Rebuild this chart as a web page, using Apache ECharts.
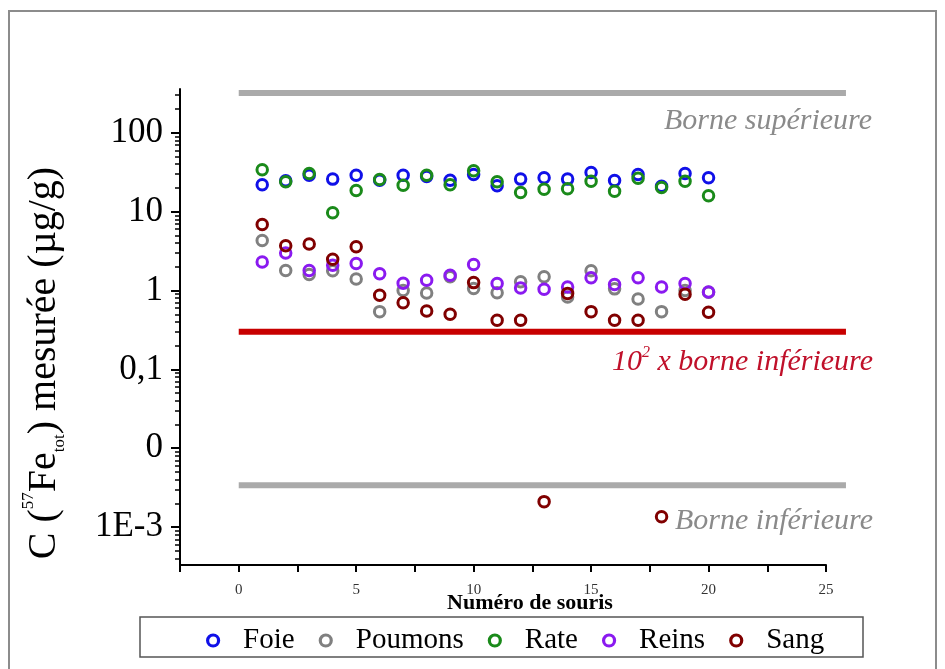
<!DOCTYPE html>
<html>
<head>
<meta charset="utf-8">
<script src="https://cdn.jsdelivr.net/npm/echarts@6/dist/echarts.min.js"></script>
<style>
  html, body { margin: 0; padding: 0; background: #fff; }
  #chart { width: 945px; height: 669px; }
</style>
</head>
<body>
<div id="chart"></div>
<script>
// numéros de souris
const souris = [1, 2, 3, 4, 5, 6, 7, 8, 9, 10, 11, 12, 13, 14, 15, 16, 17, 18, 19, 20]
// concentrations (µg/g)
const foie = [22, 24.6, 29, 25.9, 29, 25, 29, 28, 25, 29.6, 21.3, 25.9, 27, 25.9, 31.5, 24.9, 29.6, 21, 30.5, 27]
const poumons = [4.3, 1.8, 1.6, 1.78, 1.4, 0.54, 1.0, 0.93, 1.5, 1.06, 0.94, 1.29, 1.5, 0.83, 1.78, 1.05, 0.78, 0.54, 1.0, 0.95]
const rate = [34, 24, 30.5, 9.7, 18.6, 25.6, 21.7, 29, 22, 33, 24, 17.5, 19.3, 19.6, 24.4, 18.2, 26.5, 20.3, 24.4, 15.9]
const reins = [2.3, 3.0, 1.8, 2.1, 2.2, 1.63, 1.24, 1.35, 1.56, 2.14, 1.23, 1.08, 1.04, 1.11, 1.45, 1.19, 1.45, 1.11, 1.23, 0.96]
const sang = [6.9, 3.7, 3.9, 2.5, 3.6, 0.87, 0.70, 0.55, 0.50, 1.26, 0.42, 0.42, 0.0021, 0.92, 0.54, 0.42, 0.42, 0.00135, 0.90, 0.53]

// bornes
const borneSup = 320
const borneInf = 0.0034
const borneInf100 = 0.3
const borneX = [0, 25.85]

// graduations
const yTicks = [0.001, 0.01, 0.1, 1, 10, 100]
const yTickLabels = ['1E-3', '0', '0,1', '1', '10', '100']
const xLabels = [0, 5, 10, 15, 20, 25]

const serif = 'Liberation Serif'

let chart = echarts.init(document.getElementById('chart'))

function nuage(name, values, color) {
  return {
    name: name,
    type: 'scatter',
    symbol: 'circle',
    symbolSize: 10.5,
    itemStyle: { color: 'rgba(255,255,255,0)', borderColor: color, borderWidth: 3, opacity: 1 },
    data: souris.map(function (n, i) { return [n, values[i]] })
  }
}

// trait horizontal d'une borne, dessiné via les échelles des axes
function borne(name, value, color) {
  return {
    name: name,
    type: 'custom',
    silent: true,
    clip: false,
    data: [[borneX[0], borneX[1], value]],
    renderItem: function (params, api) {
      let p0 = api.coord([api.value(0), api.value(2)])
      let p1 = api.coord([api.value(1), api.value(2)])
      return {
        type: 'line',
        shape: { x1: p0[0], y1: p0[1], x2: p1[0], y2: p1[1] },
        style: { stroke: color, lineWidth: 6 }
      }
    }
  }
}

chart.setOption({
  animation: false,
  grid: { left: 180, right: 119, top: 89, bottom: 104 },
  legend: {
    data: ['Foie', 'Poumons', 'Rate', 'Reins', 'Sang'],
    left: 201,
    top: 621,
    itemWidth: 50,
    itemHeight: 11,
    itemGap: 24,
    itemStyle: { borderWidth: 3.2 },
    textStyle: { fontFamily: serif, fontSize: 29, color: '#000' }
  },
  xAxis: {
    type: 'value',
    min: -2.5,
    max: 25,
    interval: 2.5,
    name: 'Numéro de souris',
    nameLocation: 'middle',
    nameGap: 27,
    nameMoveOverlap: false,
    nameTextStyle: { fontFamily: serif, fontSize: 22, fontWeight: 'bold', color: '#000', padding: [0, 0, 0, 54] },
    axisLine: { onZero: false, lineStyle: { color: '#000', width: 2 } },
    axisTick: { length: 7, lineStyle: { color: '#000', width: 2 } },
    splitLine: { show: false },
    axisLabel: {
      fontFamily: serif, fontSize: 15, color: '#333', margin: 18,
      formatter: function (v) { return xLabels.indexOf(v) >= 0 ? String(v) : '' }
    }
  },
  yAxis: {
    type: 'log',
    logBase: 10,
    min: 3.3e-4,
    max: 360,
    name: '{t|C (}{sup|57}{t|Fe}{sub|tot}{t|) mesurée (µg/g)}',
    nameLocation: 'middle',
    nameGap: 112,
    nameMoveOverlap: false,
    nameTextStyle: {
      padding: [0, 72, 0, 0],
      rich: {
        t: { fontFamily: serif, fontSize: 40, color: '#000', lineHeight: 48 },
        sup: { fontFamily: serif, fontSize: 17, color: '#000', verticalAlign: 'top', lineHeight: 48, padding: [0, 0, 22, 0] },
        sub: { fontFamily: serif, fontSize: 17, color: '#000', verticalAlign: 'bottom', lineHeight: 48, padding: [20, 0, 0, 0] }
      }
    },
    axisLine: { show: true, onZero: false, lineStyle: { color: '#000', width: 2 } },
    axisTick: { show: true, length: 9, customValues: yTicks, lineStyle: { color: '#000', width: 2 } },
    minorTick: { show: true, splitNumber: 9, length: 5, lineStyle: { color: '#000', width: 1.5 } },
    splitLine: { show: false },
    axisLabel: {
      customValues: yTicks,
      fontFamily: serif, fontSize: 35, color: '#000', margin: 17,
      formatter: function (v) {
        let i = yTicks.findIndex(function (t) { return Math.abs(Math.log10(t) - Math.log10(v)) < 1e-6 })
        return i >= 0 ? yTickLabels[i] : ''
      }
    }
  },
  graphic: [
    {
      type: 'rect', silent: true, z: -1,
      shape: { x: 9, y: 11, width: 927, height: 700 },
      style: { fill: null, stroke: '#8c8c8c', lineWidth: 2 }
    },
    {
      type: 'rect', silent: true,
      shape: { x: 140, y: 617, width: 723, height: 40 },
      style: { fill: null, stroke: '#555', lineWidth: 1.5 }
    },
    {
      type: 'text', silent: true, x: 872, y: 121,
      style: { text: 'Borne supérieure', align: 'right', verticalAlign: 'middle', fill: '#8a8a8a', font: 'italic 30px "Liberation Serif"' }
    },
    {
      type: 'text', silent: true, x: 873, y: 362,
      style: {
        text: '{a|10}{b|2}{a| x borne inférieure}', align: 'right', verticalAlign: 'middle',
        rich: {
          a: { fill: '#c0102a', font: 'italic 30px "Liberation Serif"', lineHeight: 34 },
          b: { fill: '#c0102a', font: 'italic 16px "Liberation Serif"', verticalAlign: 'top', lineHeight: 34 }
        }
      }
    },
    {
      type: 'text', silent: true, x: 873, y: 521,
      style: { text: 'Borne inférieure', align: 'right', verticalAlign: 'middle', fill: '#8a8a8a', font: 'italic 30px "Liberation Serif"' }
    }
  ],
  series: [
    borne('sup', borneSup, '#aaaaaa'),
    borne('inf100', borneInf100, '#c80000'),
    borne('inf', borneInf, '#aaaaaa'),
    nuage('Foie', foie, '#1010e8'),
    nuage('Poumons', poumons, '#808080'),
    nuage('Rate', rate, '#1a8a1a'),
    nuage('Reins', reins, '#8a1af0'),
    nuage('Sang', sang, '#800000')
  ]
})
</script>
</body>
</html>
